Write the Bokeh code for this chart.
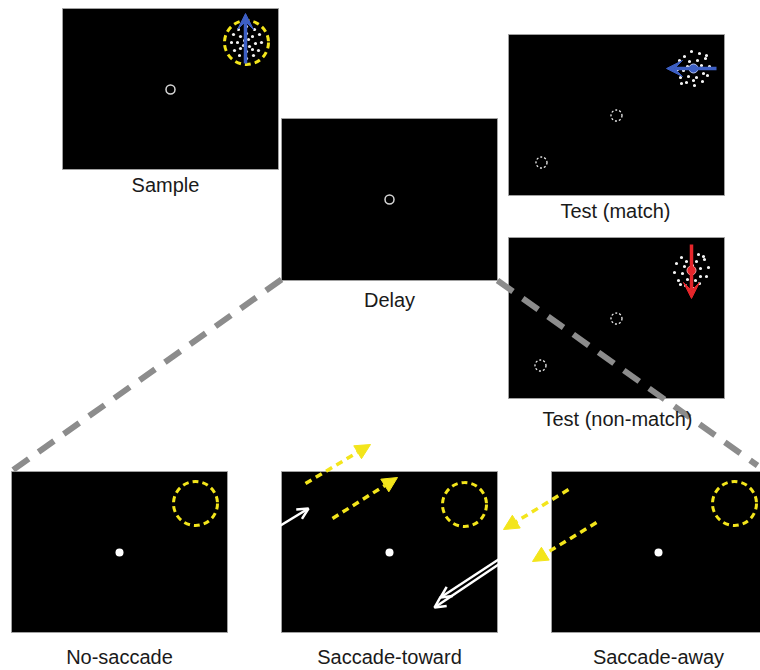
from bokeh.plotting import figure
from bokeh.models import Range1d, Arrow, NormalHead, OpenHead, VeeHead
from bokeh.core.properties import value
from bokeh.embed import file_html
from bokeh.resources import INLINE

# ---- panel layout (screen-like coordinates, y grows downward) ----
panel_names = ["Sample", "Delay", "Test (match)", "Test (non-match)",
               "No-saccade", "Saccade-toward", "Saccade-away"]
panel_left = [62, 281, 508, 508, 11, 281, 551]
panel_right = [278, 497, 724, 724, 227, 497, 775]
panel_top = [8, 118, 34, 237, 471, 471, 471]
panel_bottom = [169, 280, 195, 398, 632, 632, 632]
label_x = [165, 389, 615, 617, 119, 389, 658]
label_y = [184, 299, 210, 418, 656, 656, 656]

# fixation rings (solid) and dotted rings
ring_x = [170, 389]
ring_y = [89, 199]
dotted_ring_x = [616, 541, 616, 540]
dotted_ring_y = [115, 162, 318, 365]
# filled fixation dots (bottom row)
fix_x = [119, 389, 658]
fix_y = [552, 552, 552]
# yellow dashed receptive-field circles
rf_x = [246, 195, 464, 734]
rf_y = [42, 503, 504, 503]
rf_size = [44, 44, 44, 44]

# random-dot patterns (centre + offsets)
sample_c = (246, 42)
sample_dx = [0, 8, 13, 15, 12, 7, 0, -7, -12, -15, -13, -8, 0, 6, 9, 6, 0, -6, -9, -6, 2, -3, 3, -2]
sample_dy = [-16, -13, -8, 0, 8, 13, 16, 13, 8, 0, -8, -13, -9, -6, 1, 7, 9, 6, 0, -6, -3, 3, 4, -2]
match_c = (693, 68)
match_dx = [-2, 6, 12, 16, 14, 9, 1, -7, -13, -16, -14, -9, -4, 4, 8, 10, 3, -5, -10, -6, 0, 13, -12]
match_dy = [-17, -15, -10, -2, 7, 13, 17, 14, 9, 1, -8, -12, -7, -8, -3, 5, 9, 8, 2, -2, 12, -13, 15]
nonmatch_c = (691, 270)
nonmatch_dx = [0, 7, 13, 17, 15, 8, 2, -6, -13, -17, -15, -10, -5, 5, 9, 9, 4, -4, -9, -7, 1, -11, 12]
nonmatch_dy = [-19, -16, -11, -3, 6, 13, 18, 15, 10, 2, -7, -13, -9, -9, -2, 6, 10, 9, 3, -4, -5, 14, -14]

# motion arrows: (x_start, y_start, x_end, y_end)
sample_arrow = (245, 63, 245, 13)
match_arrow = (716, 68, 666, 68)
nonmatch_arrow = (691, 244, 691, 298)
yellow_arrows = [(305, 483, 370, 444), (332, 518, 397, 477),
                 (568, 489, 503, 529), (596, 522, 532, 561)]
white_arrows = [(280, 525, 308, 508), (498, 559, 440, 597), (498, 564, 434, 607)]

# grey dashed connectors
conn_left_x = [281, 9]
conn_left_y = [279, 472]
conn_right_x = [497, 757]
conn_right_y = [280, 465]

YELLOW = "#f3e51b"
BLUE = "#3d5fc4"
RED = "#e6262b"
GREY = "#8c8c8c"

p = figure(width=760, height=670, x_range=Range1d(0, 760), y_range=Range1d(670, 0),
           output_backend="svg", toolbar_location=None, min_border=0)
p.axis.visible = False
p.grid.visible = False
p.outline_line_color = None
p.background_fill_color = "white"
p.border_fill_color = "white"

p.quad(left=panel_left, right=panel_right, top=panel_top, bottom=panel_bottom,
       fill_color="black", line_color="#a0a0a0", line_width=1)

# connectors
p.line(conn_left_x, conn_left_y, line_color=GREY, line_width=6, line_dash="19 12")
p.line(conn_right_x, conn_right_y, line_color=GREY, line_width=6, line_dash="19 12")

# fixation marks
p.scatter(ring_x, ring_y, marker="circle", size=9, fill_color=None,
          line_color="#d8d8d8", line_width=1.5)
p.scatter(dotted_ring_x, dotted_ring_y, marker="circle", size=11, fill_color=None,
          line_color="#f0f0f0", line_width=1.3, line_dash="2 2")
p.scatter(fix_x, fix_y, marker="circle", size=8, fill_color="white", line_color=None)

# receptive field circles
p.scatter(rf_x, rf_y, marker="circle", size=rf_size, fill_color=None,
          line_color=YELLOW, line_width=3, line_dash="6 4")

# random dots
for c, dx, dy in [(sample_c, sample_dx, sample_dy), (match_c, match_dx, match_dy),
                  (nonmatch_c, nonmatch_dx, nonmatch_dy)]:
    p.scatter([c[0] + v for v in dx], [c[1] + v for v in dy], marker="circle",
              size=3.2, fill_color="#f2f2f2", line_color=None)

# motion arrows
for (xs, ys, xe, ye), col in [(sample_arrow, BLUE), (match_arrow, BLUE), (nonmatch_arrow, RED)]:
    p.add_layout(Arrow(x_start=xs, y_start=ys, x_end=xe, y_end=ye, line_color=col, line_width=3.5,
                       end=VeeHead(size=16, fill_color=col, line_color=col)))
p.scatter([match_c[0], nonmatch_c[0]], [match_c[1], nonmatch_c[1]], marker="circle", size=9,
          fill_color=[BLUE, RED], line_color=["#b8c4ee", "#f0a0a0"], line_width=1)

# saccade arrows
for xs, ys, xe, ye in yellow_arrows:
    p.add_layout(Arrow(x_start=xs, y_start=ys, x_end=xe, y_end=ye, line_color=YELLOW,
                       line_width=3.5, line_dash="7 5",
                       end=NormalHead(size=15, fill_color=YELLOW, line_color=YELLOW)))
for xs, ys, xe, ye in white_arrows:
    p.add_layout(Arrow(x_start=xs, y_start=ys, x_end=xe, y_end=ye, line_color="white",
                       line_width=2.5, end=OpenHead(size=11, line_color="white", line_width=2.5)))

p.text(x=label_x, y=label_y, text=panel_names, text_font=value("Liberation Sans"),
       text_font_size="20px", text_align="center", text_baseline="middle", text_color="#1a1a1a")

open("out.html", "w").write(file_html(p, INLINE))
